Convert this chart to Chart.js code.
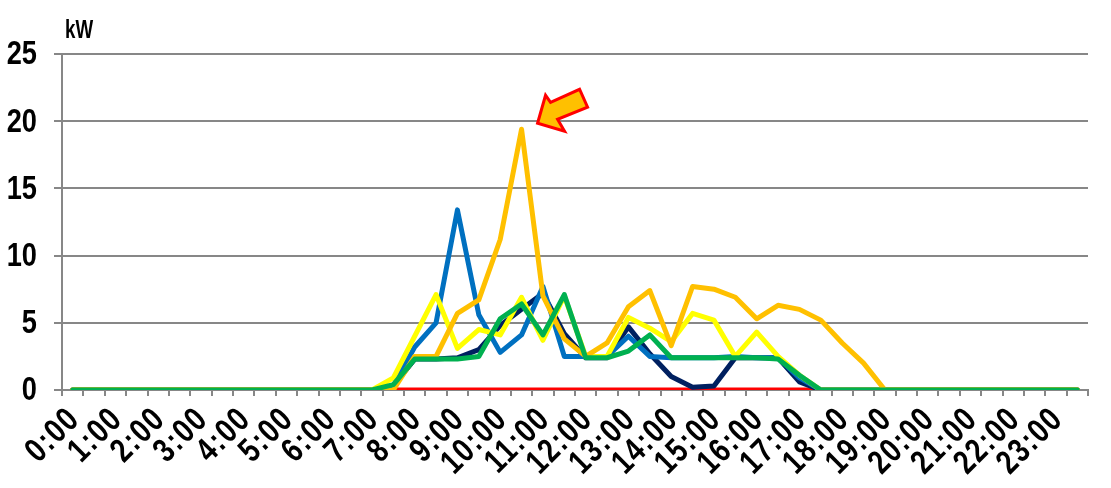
<!DOCTYPE html>
<html>
<head>
<meta charset="utf-8">
<script src="https://cdn.jsdelivr.net/npm/chart.js@4.4.0/dist/chart.umd.min.js"></script>
<style>
  body { margin: 0; background: #fff; }
  #wrap { width: 1111px; height: 488px; position: relative; }
</style>
</head>
<body>
<div id="wrap"><canvas id="chart"></canvas></div>
<script>
// half-hour slots
const times = [
  '0:00','0:30','1:00','1:30','2:00','2:30','3:00','3:30','4:00','4:30','5:00','5:30',
  '6:00','6:30','7:00','7:30','8:00','8:30','9:00','9:30','10:00','10:30','11:00','11:30',
  '12:00','12:30','13:00','13:30','14:00','14:30','15:00','15:30','16:00','16:30','17:00','17:30',
  '18:00','18:30','19:00','19:30','20:00','20:30','21:00','21:30','22:00','22:30','23:00','23:30'
];

const yTicks = [0, 5, 10, 15, 20, 25];

// kW per slot
const greenVals = [
  0,0,0,0,0,0,0,0,0,0,0,0,0,0,0,0.4,
  2.3,2.3,2.3,2.5,5.3,6.4,4.1,7.1,2.4,2.4,2.9,4.1,2.4,2.4,2.4,2.4,
  2.4,2.3,1.1,0,0,0,0,0,0,0,0,0,0,0,0,0
];
const orangeVals = [
  0,0,0,0,0,0,0,0,0,0,0,0,0,0,0,0,
  2.5,2.5,5.7,6.7,11.2,19.4,7.0,3.8,2.5,3.5,6.2,7.4,3.3,7.7,7.5,6.9,
  5.3,6.3,6.0,5.2,3.5,2.0,0,0,0,0,0,0,0,0,0,0
];
const yellowVals = [
  0,0,0,0,0,0,0,0,0,0,0,0,0,0,0,0.9,
  4.0,7.1,3.1,4.5,4.1,6.9,3.7,7.0,2.5,2.5,5.4,4.6,3.6,5.7,5.2,2.5,
  4.3,2.5,1.1,0,0,0,0,0,0,0,0,0,0,0,0,0
];
const blueVals = [
  0,0,0,0,0,0,0,0,0,0,0,0,0,0,0,0.3,
  3.2,5.0,13.4,5.6,2.8,4.1,7.7,2.5,2.5,2.5,4.0,2.5,2.4,2.4,2.4,2.5,
  2.4,2.4,0.9,0,0,0,0,0,0,0,0,0,0,0,0,0
];
const navyVals = [
  0,0,0,0,0,0,0,0,0,0,0,0,0,0,0,0.3,
  2.3,2.3,2.4,3.0,4.8,6.0,7.2,4.2,2.4,2.4,4.7,2.7,1.0,0.2,0.3,2.4,
  2.4,2.4,0.6,0,0,0,0,0,0,0,0,0,0,0,0,0
];
const redVals = [
  0,0,0,0,0,0,0,0,0,0,0,0,0,0,0,0,
  0,0,0,0,0,0,0,0,0,0,0,0,0,0,0,0,
  0,0,0,0,0,0,0,0,0,0,0,0,0,0,0,0
];

const GRID = '#878787';
const FONT = "'Liberation Sans', Arial, sans-serif";
const SQUEEZE = 0.8;   // narrow gothic look

function line(data, color) {
  return {
    data: data,
    borderColor: color,
    borderWidth: 5,
    pointRadius: 0,
    tension: 0,
    fill: false,
    borderJoinStyle: 'round',
    borderCapStyle: 'round'
  };
}

// draws narrow text (labels, unit) and the arrow
const labels = {
  id: 'labels',
  afterDraw(chart) {
    const ctx = chart.ctx;
    const area = chart.chartArea;
    const x = chart.scales.x, y = chart.scales.y;
    ctx.save();
    ctx.fillStyle = '#000';

    // y tick labels
    ctx.font = "bold 34px " + FONT;
    ctx.textAlign = 'right';
    ctx.textBaseline = 'middle';
    y.ticks.forEach((t, i) => {
      ctx.save();
      ctx.translate(area.left - 25, y.getPixelForTick(i) + 1);
      ctx.scale(SQUEEZE, 1);
      ctx.fillText(String(t.value), 0, 0);
      ctx.restore();
    });

    // x tick labels, one per hour
    ctx.letterSpacing = '2px';
    times.forEach((lab, i) => {
      if (!lab.endsWith(':00')) return;
      ctx.save();
      ctx.translate(x.getPixelForValue(i) + 2, area.bottom + 24);
      ctx.rotate(-Math.PI / 4);
      ctx.scale(SQUEEZE, 1);
      ctx.fillText(lab, 0, 0);
      ctx.restore();
    });
    ctx.letterSpacing = '0px';

    // unit
    ctx.font = "bold 26px " + FONT;
    ctx.textAlign = 'left';
    ctx.textBaseline = 'alphabetic';
    ctx.save();
    ctx.translate(area.left + 3, 38);
    ctx.scale(SQUEEZE * 0.9, 1);
    ctx.fillText('kW', 0, 0);
    ctx.restore();

    // arrow pointing at the peak
    const px = x.getPixelForValue(21);
    const py = y.getPixelForValue(orangeVals[21]);
    const pts = [
      [16, -6], [24, -34], [29, -27], [58, -40], [66, -22], [36, -10], [43, 2]
    ];
    ctx.beginPath();
    pts.forEach((p, i) => {
      if (i === 0) ctx.moveTo(px + p[0], py + p[1]);
      else ctx.lineTo(px + p[0], py + p[1]);
    });
    ctx.closePath();
    ctx.fillStyle = '#FFC000';
    ctx.fill();
    ctx.lineWidth = 3;
    ctx.lineJoin = 'miter';
    ctx.strokeStyle = '#FF0000';
    ctx.stroke();
    ctx.restore();
  }
};

new Chart(document.getElementById('chart'), {
  type: 'line',
  data: {
    labels: times,
    datasets: [
      line(greenVals, '#00B050'),
      line(orangeVals, '#FFC000'),
      line(yellowVals, '#FFFF00'),
      line(blueVals, '#0070C0'),
      line(navyVals, '#002060'),
      line(redVals, '#FF0000')
    ]
  },
  options: {
    responsive: true,
    maintainAspectRatio: false,
    animation: false,
    layout: { padding: { top: 54, right: 23, bottom: 0, left: 0 } },
    plugins: { legend: { display: false }, tooltip: { enabled: false } },
    scales: {
      x: {
        offset: true,
        grid: { offset: true, drawOnChartArea: false, drawTicks: true, tickLength: 6, color: GRID, lineWidth: 2 },
        border: { display: true, color: GRID, width: 2 },
        ticks: { display: false, autoSkip: false },
        afterFit: s => { s.height = 98; }
      },
      y: {
        min: 0,
        max: 25,
        afterBuildTicks: s => { s.ticks = yTicks.map(v => ({ value: v })); },
        grid: { color: GRID, lineWidth: 2, tickLength: 8, drawTicks: true },
        border: { display: true, color: GRID, width: 2 },
        ticks: { display: false },
        afterFit: s => { s.width = 62; }
      }
    }
  },
  plugins: [labels]
});
</script>
</body>
</html>
